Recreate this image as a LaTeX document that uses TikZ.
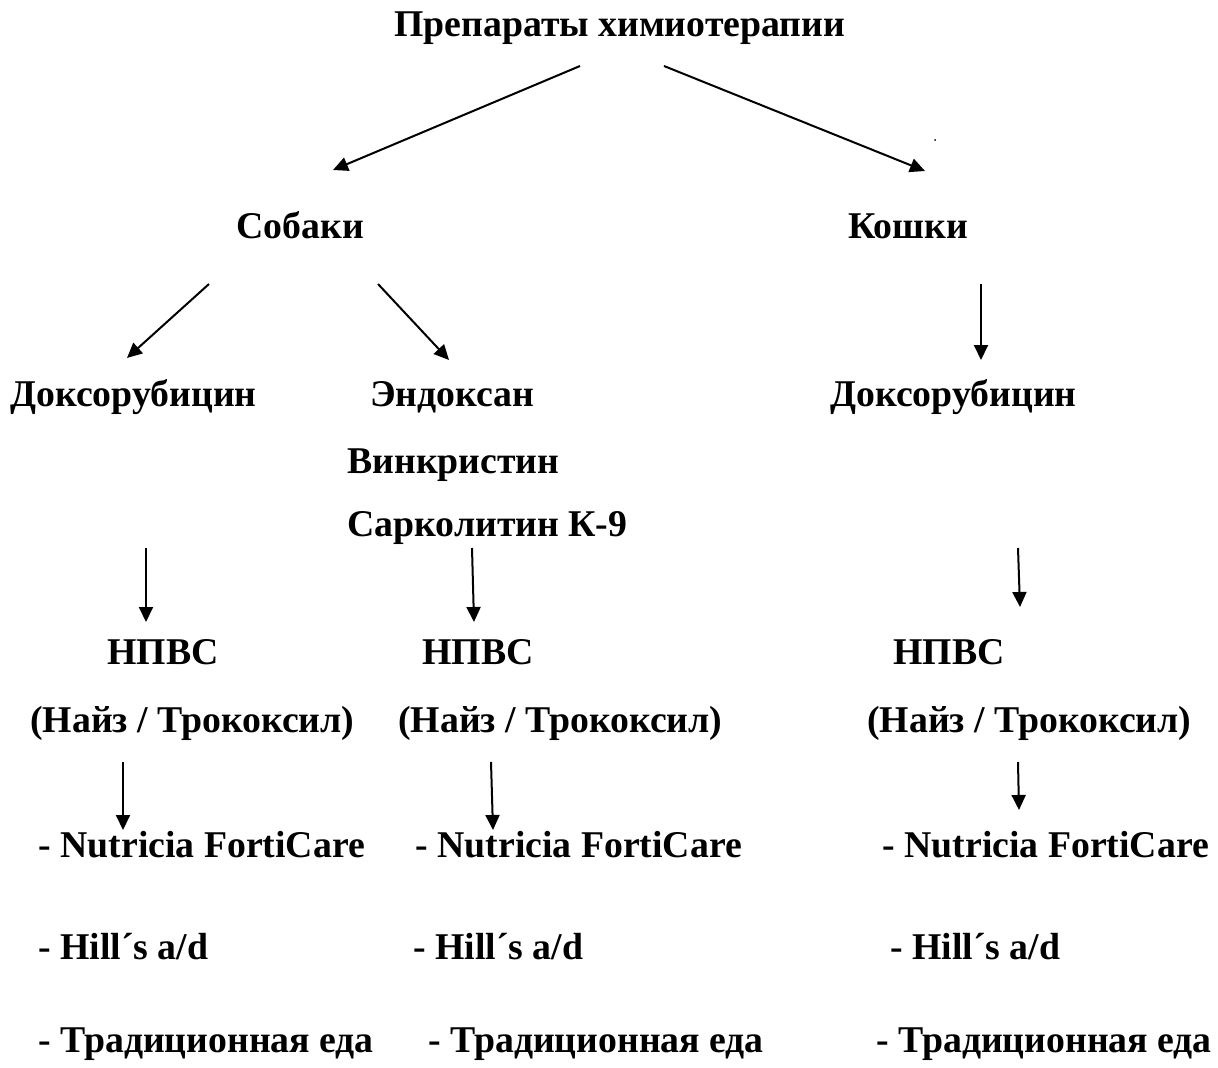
\documentclass[tikz,border=0pt]{standalone}
\usepackage{fontspec}
\setmainfont{LiberationSerif}[Extension=.ttf,UprightFont=*-Regular,BoldFont=*-Bold]
\usetikzlibrary{arrows.meta}
\tikzset{lbl/.style={anchor=base west,inner sep=0pt,font=\bfseries\fontsize{21.5}{24}\selectfont},
arr/.style={line width=0.04cm,-{Triangle[length=0.3cm,width=0.28cm]}}}

\begin{document}
\begin{tikzpicture}[x=0.02cm,y=-0.02cm]
\useasboundingbox (0,0) rectangle (1218,1068);
% top
\node[lbl] (prep) at (394,37) {Препараты химиотерапии};
\node[lbl] (dogs) at (236,238) {Собаки};
\node[lbl] (cats) at (848,238) {Кошки};
% drugs
\node[lbl] (doxD) at (10,406) {Доксорубицин};
\node[lbl] (endo) at (370,406) {Эндоксан};
\node[lbl] (vink) at (347,473) {Винкристин};
\node[lbl] (sark) at (347,536) {Сарколитин К-9};
\node[lbl] (doxC) at (830,406) {Доксорубицин};
% nsaids
\node[lbl] (npvsA) at (107,664) {НПВС};
\node[lbl] (npvsB) at (422,664) {НПВС};
\node[lbl] (npvsC) at (893,664) {НПВС};
\node[lbl] (naizA) at (30,732) {(Найз / Трококсил)};
\node[lbl] (naizB) at (398,732) {(Найз / Трококсил)};
\node[lbl] (naizC) at (867,732) {(Найз / Трококсил)};
% food
\node[lbl] (nutA) at (38,857) {- Nutricia FortiCare};
\node[lbl] (nutB) at (415,857) {- Nutricia FortiCare};
\node[lbl] (nutC) at (882,857) {- Nutricia FortiCare};
\node[lbl] (hillA) at (38,959) {- Hill´s a/d};
\node[lbl] (hillB) at (413,959) {- Hill´s a/d};
\node[lbl] (hillC) at (890,959) {- Hill´s a/d};
\node[lbl] (tradA) at (38,1052) {- Традиционная еда};
\node[lbl] (tradB) at (428,1052) {- Традиционная еда};
\node[lbl] (tradC) at (876,1052) {- Традиционная еда};
% arrow ends
\coordinate (p1) at (580,66);  \coordinate (d0) at (333,170);
\coordinate (p2) at (664,66);  \coordinate (c0) at (925,171);
\coordinate (d1) at (209,284); \coordinate (dA) at (127,358);
\coordinate (d2) at (378,284); \coordinate (dB) at (449,360);
\coordinate (c1) at (981,284); \coordinate (cA) at (981,360);
\coordinate (x1) at (146,548); \coordinate (xA) at (146,622);
\coordinate (x2) at (472,548); \coordinate (xB) at (474,622);
\coordinate (x3) at (1018,548); \coordinate (xC) at (1020,607);
\coordinate (y1) at (123,762); \coordinate (yA) at (123,830);
\coordinate (y2) at (491,762); \coordinate (yB) at (493,830);
\coordinate (y3) at (1018,762); \coordinate (yC) at (1019,810);
\draw[arr] (p1) -- (d0);
\draw[arr] (p2) -- (c0);
\draw[arr] (d1) -- (dA);
\draw[arr] (d2) -- (dB);
\draw[arr] (c1) -- (cA);
\draw[arr] (x1) -- (xA);
\draw[arr] (x2) -- (xB);
\draw[arr] (x3) -- (xC);
\draw[arr] (y1) -- (yA);
\draw[arr] (y2) -- (yB);
\draw[arr] (y3) -- (yC);
\fill (935,140) circle (0.02cm);
\end{tikzpicture}
\end{document}
